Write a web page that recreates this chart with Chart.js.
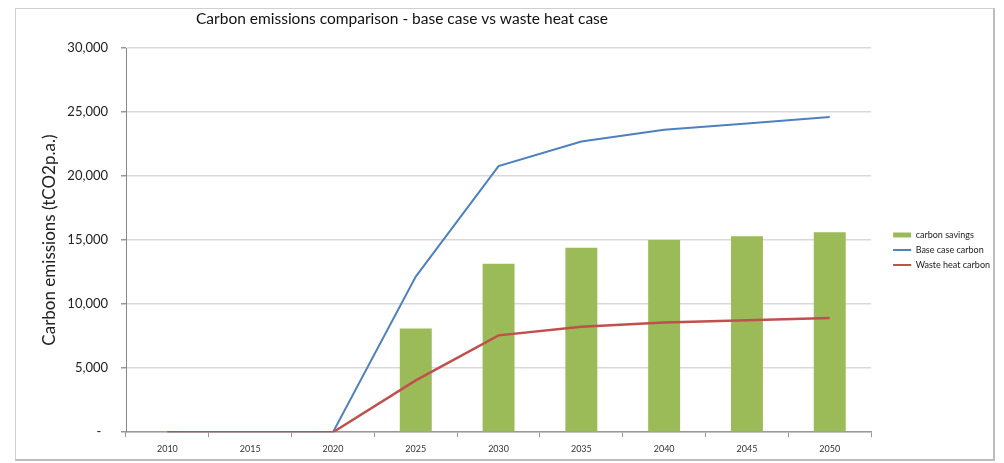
<!DOCTYPE html>
<html>
<head>
<meta charset="utf-8">
<script src="https://cdn.jsdelivr.net/npm/chart.js@4/dist/chart.umd.min.js"></script>
<style>
  body { margin: 0; background: #fff; }
  #frame {
    position: absolute; left: 15px; top: 8px;
    width: 977px; height: 450px;
    border: 1px solid #cfcfcf;
    border-right: 2px solid #bdbdbd;
    border-bottom: 2px solid #bdbdbd;
  }
</style>
</head>
<body>
<div id="frame"><canvas id="chart" width="977" height="450"></canvas></div>
<script>
const years = ['2010', '2015', '2020', '2025', '2030', '2035', '2040', '2045', '2050'];
const carbonSavings = [null, null, null, 8100, 13150, 14400, 15000, 15300, 15620];
const baseCaseCarbon = [0, 0, 0, 12150, 20780, 22700, 23610, 24100, 24620];
const wasteHeatCarbon = [0, 0, 0, 4050, 7560, 8230, 8570, 8750, 8910];
const chartTitle = 'Carbon emissions comparison - base case vs waste heat case';

const fontFamily = 'Lato, "Open Sans", sans-serif';

// title sits left of the plot centre in the original, so draw it by hand
const titlePlugin = {
    id: 'sheetTitle',
    afterDraw(chart) {
        const ctx = chart.ctx;
        ctx.save();
        ctx.font = '15.5px ' + fontFamily;
        ctx.fillStyle = '#111';
        ctx.textAlign = 'center';
        ctx.textBaseline = 'middle';
        ctx.fillText(chartTitle, 386, 10);
        ctx.restore();
    }
};

// legend is set a little away from the plot
const legendNudge = {
    id: 'legendNudge',
    afterLayout(chart) {
        const lg = chart.legend;
        lg.left += 16;
        lg.right += 16;
        lg.top -= 4;
        lg.bottom -= 4;
    }
};

new Chart(document.getElementById('chart'), {
    data: {
        labels: years,
        datasets: [
            {
                type: 'bar',
                label: 'carbon savings',
                data: carbonSavings,
                backgroundColor: '#9bbb59',
                categoryPercentage: 1,
                barPercentage: 0.386,
                order: 3
            },
            {
                type: 'line',
                label: 'Base case carbon',
                data: baseCaseCarbon,
                borderColor: '#4f81bd',
                backgroundColor: '#4f81bd',
                borderWidth: 2,
                pointRadius: 0,
                tension: 0,
                order: 2
            },
            {
                type: 'line',
                label: 'Waste heat carbon',
                data: wasteHeatCarbon,
                borderColor: '#c0504d',
                backgroundColor: '#c0504d',
                borderWidth: 2.5,
                pointRadius: 0,
                tension: 0,
                order: 1
            }
        ]
    },
    options: {
        responsive: false,
        animation: false,
        layout: { padding: { top: 39, left: 23, right: 9, bottom: -1 } },
        plugins: {
            tooltip: { enabled: false },
            legend: {
                position: 'right',
                labels: {
                    font: { family: fontFamily, size: 9 },
                    color: '#222',
                    usePointStyle: true,
                    pointStyle: 'line',
                    pointStyleWidth: 18,
                    padding: 6,
                    sort: (a, b) => a.datasetIndex - b.datasetIndex,
                    generateLabels(chart) {
                        const items = Chart.defaults.plugins.legend.labels.generateLabels(chart);
                        items.forEach(it => {
                            const ds = chart.data.datasets[it.datasetIndex];
                            it.pointStyle = 'line';
                            it.strokeStyle = ds.type === 'bar' ? ds.backgroundColor : ds.borderColor;
                            it.lineWidth = ds.type === 'bar' ? 5 : 2;
                        });
                        return items;
                    }
                }
            }
        },
        scales: {
            x: {
                offset: true,
                grid: {
                    offset: true,
                    drawOnChartArea: false,
                    tickLength: 5,
                    tickColor: '#999'
                },
                border: { color: '#999', width: 1.5 },
                ticks: {
                    font: { family: fontFamily, size: 9 },
                    color: '#333',
                    padding: 6
                }
            },
            y: {
                min: 0,
                max: 30000,
                afterFit(scale) { scale.width = 87; },
                grid: {
                    color: '#d9d9d9',
                    lineWidth: 1.5,
                    tickLength: 5,
                    tickColor: '#999'
                },
                border: { color: '#888', width: 1 },
                ticks: {
                    stepSize: 5000,
                    font: { family: fontFamily, size: 13 },
                    color: '#222',
                    padding: 13,
                    callback: v => v === 0 ? '-  ' : v.toLocaleString('en-US')
                },
                title: {
                    display: true,
                    text: 'Carbon emissions (tCO2p.a.)',
                    font: { family: fontFamily, size: 17 },
                    color: '#222',
                    padding: { top: 0, bottom: 0 }
                }
            }
        }
    },
    plugins: [titlePlugin, legendNudge]
});
</script>
</body>
</html>
